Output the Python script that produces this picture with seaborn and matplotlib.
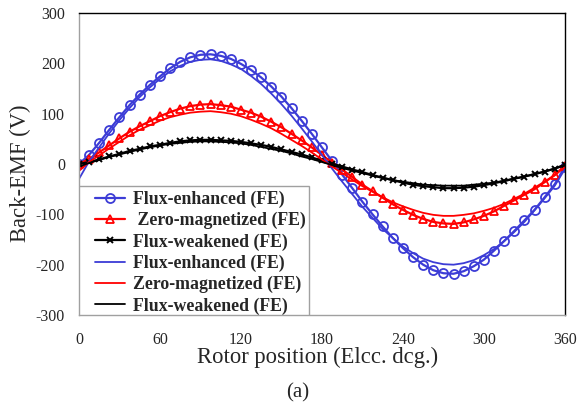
import numpy as np
import pandas as pd
import matplotlib
matplotlib.use("Agg")
import matplotlib.pyplot as plt
from matplotlib.patches import Rectangle
import seaborn as sns

# rotor position grid (electrical degrees)
angle = np.arange(0, 360.1, 7.5)

# measured back-EMF (markers)
fe_meas = [0, 18, 42, 68, 93, 117, 138, 157, 174, 190, 203, 212, 217, 218, 215, 209,
           199, 187, 172, 154, 134, 111, 86, 60, 33, 6, -21, -48, -75, -100, -124,
           -147, -167, -185, -200, -211, -217, -218, -213, -203, -190, -172, -153,
           -133, -112, -91, -66, -40, -5]
zm_meas = [0, 10, 23, 37, 51, 64, 75, 85, 95, 103, 110, 115, 118, 119, 117, 114,
           108, 102, 94, 84, 73, 60, 47, 33, 18, 3, -11, -26, -41, -54, -67,
           -80, -91, -101, -109, -115, -118, -119, -116, -110, -103, -94, -83,
           -72, -61, -50, -36, -22, -3]
fw_meas = [0, 4, 9, 15, 20, 26, 30, 35, 38, 42, 45, 47, 48, 48, 47, 46,
           44, 41, 38, 34, 29, 24, 19, 13, 7, 1, -5, -11, -16, -22, -27,
           -32, -37, -41, -44, -46, -48, -48, -47, -45, -42, -38, -34,
           -29, -25, -20, -15, -9, -1]

# simulated back-EMF (plain lines)
fe_sim = [-30, 5, 33, 61, 87, 111, 133, 152, 169, 184, 195, 203, 207, 208, 205, 198,
          189, 175, 159, 140, 119, 96, 71, 45, 18, -9, -35, -60, -85, -107, -129,
          -147, -164, -177, -188, -195, -199, -200, -197, -191, -181, -169, -153,
          -135, -115, -92, -68, -43, -10]
zm_sim = [-14, 4, 17, 31, 44, 57, 68, 77, 86, 93, 98, 102, 104, 105, 103, 100,
          95, 88, 80, 71, 60, 48, 36, 23, 9, -5, -18, -31, -44, -55, -66,
          -76, -84, -91, -97, -101, -103, -103, -101, -98, -93, -87, -79,
          -69, -59, -47, -35, -22, -6]
fw_sim = [-5, 2, 8, 14, 19, 24, 29, 33, 37, 40, 42, 44, 45, 45, 44, 43,
          41, 38, 34, 30, 26, 21, 15, 10, 4, -2, -8, -13, -18, -23, -28,
          -32, -35, -38, -41, -42, -43, -43, -43, -41, -39, -37, -33,
          -29, -25, -20, -15, -9, -3]

df = pd.DataFrame({"angle": angle,
                   "fe_meas": fe_meas, "zm_meas": zm_meas, "fw_meas": fw_meas,
                   "fe_sim": fe_sim, "zm_sim": zm_sim, "fw_sim": fw_sim})

sns.set_style("white")
plt.rcParams["font.family"] = ["Liberation Serif", "DejaVu Serif"]
plt.rcParams["axes.unicode_minus"] = False

blue = "#3c3cd6"
red = "#ff0000"

fig = plt.figure(figsize=(5.8, 4.07), dpi=100)
ax = fig.add_axes([0.136, 0.226, 0.838, 0.742])

sns.lineplot(data=df, x="angle", y="fe_meas", ax=ax, color=blue, lw=1.6,
             marker="o", markersize=6.5, markerfacecolor="none",
             markeredgecolor=blue, markeredgewidth=1.3, label="Flux-enhanced (FE)")
sns.lineplot(data=df, x="angle", y="zm_meas", ax=ax, color=red, lw=1.6,
             marker="^", markersize=6, markerfacecolor="none",
             markeredgecolor=red, markeredgewidth=1.3, label=" Zero-magnetized (FE)")
sns.lineplot(data=df, x="angle", y="fw_meas", ax=ax, color="black", lw=1.6,
             marker="x", markersize=5, markeredgecolor="black",
             markeredgewidth=1.4, label="Flux-weakened (FE)")
sns.lineplot(data=df, x="angle", y="fe_sim", ax=ax, color=blue, lw=1.3,
             label="Flux-enhanced (FE)")
sns.lineplot(data=df, x="angle", y="zm_sim", ax=ax, color=red, lw=1.3,
             label="Zero-magnetized (FE)")
sns.lineplot(data=df, x="angle", y="fw_sim", ax=ax, color="black", lw=1.3,
             label="Flux-weakened (FE)")

ax.set_xlim(0, 360)
ax.set_ylim(-300, 300)
ax.set_xticks(range(0, 361, 60))
ax.set_yticks(range(-300, 301, 100))
ax.tick_params(axis="both", direction="in", length=3, color="#a0a0a0",
               labelsize=11.5)
ax.tick_params(axis="y", pad=10)
ax.tick_params(axis="x", pad=12)
ax.set_xlabel("")
ax.set_ylabel("")
for side in ["left", "bottom"]:
    ax.spines[side].set_color("#a0a0a0")
for side in ["top", "right"]:
    ax.spines[side].set_color("black")
for s in ax.spines.values():
    s.set_linewidth(1.0)

fig.text(0.547, 0.122, "Rotor position (Elcc. dcg.)", ha="center", va="center",
         fontsize=16.3)
fig.text(0.514, 0.035, "(a)", ha="center", va="center", fontsize=15)
fig.text(0.036, 0.575, "Back-EMF (V)", ha="center", va="center", rotation=90,
         fontsize=16.3)

# legend box (Excel-style, padded on the left)
ax.add_patch(Rectangle((0, 0), 0.473, 0.428, transform=ax.transAxes,
                       facecolor="white", edgecolor="#a0a0a0", lw=1.0, zorder=4))
leg = ax.legend(loc="lower left", bbox_to_anchor=(0.022, -0.016), frameon=False,
                prop={"weight": "bold", "size": 12.8}, handlelength=1.7,
                labelspacing=0.225, borderpad=0.3, borderaxespad=0,
                handletextpad=0.45)
leg.set_zorder(5)

fig.savefig("out.png", dpi=100)
